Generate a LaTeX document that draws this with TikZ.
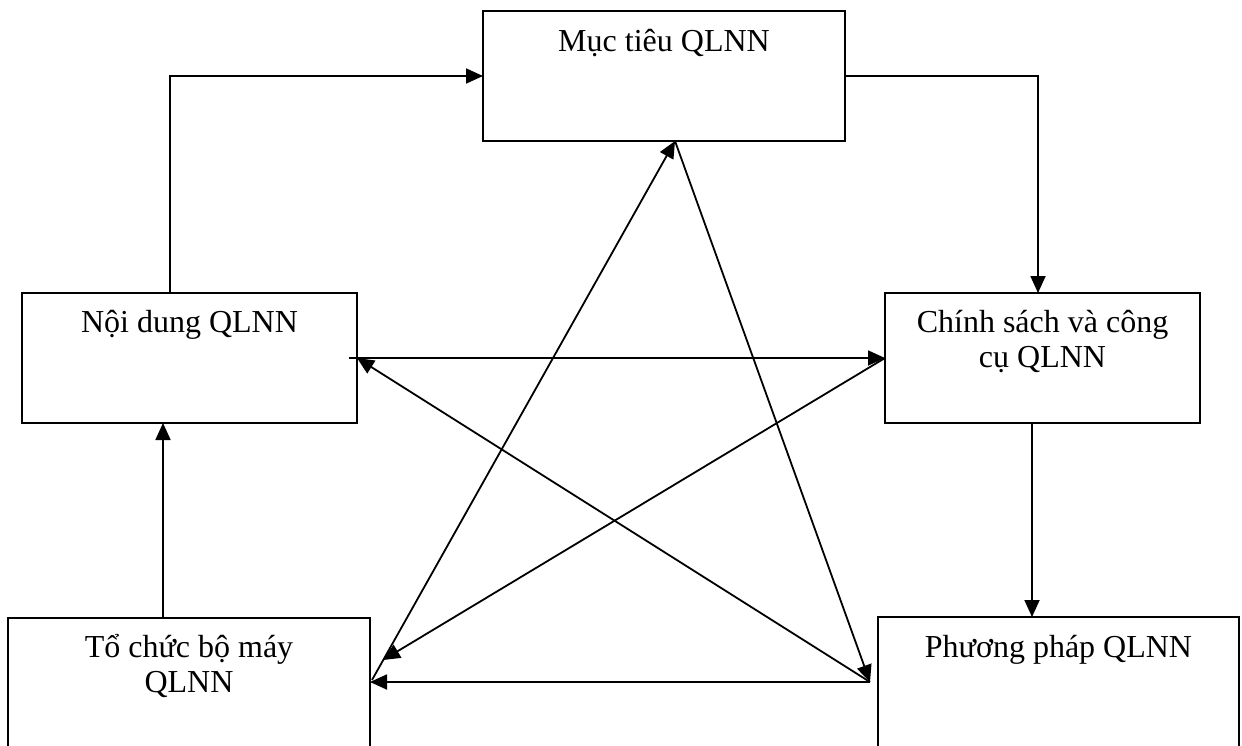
\documentclass[tikz,border=0pt]{standalone}
\usepackage{fontspec}
\setmainfont{Liberation Serif}
\usetikzlibrary{arrows.meta,calc}

\begin{document}
\begin{tikzpicture}[x=1pt,y=-1pt,
  box/.style={draw, line width=1.9pt, inner sep=0pt, outer sep=0pt},
  lbl/.style={anchor=base, inner sep=0pt, font=\fontsize{32}{35}\selectfont},
  arr/.style={line width=1.8pt, -{Triangle[length=17pt,width=15pt]}}
]
\useasboundingbox (0,0) rectangle (1242,745);
\clip (0,0) rectangle (1242,745);

% the five boxes
\node[box, minimum width=362pt, minimum height=130pt] (goal)    at (664,76)    {};
\node[box, minimum width=335pt, minimum height=130pt] (content) at (189.5,358) {};
\node[box, minimum width=315pt, minimum height=130pt] (policy)  at (1042.5,358){};
\node[box, minimum width=362pt, minimum height=200pt] (org)     at (189,718)   {};
\node[box, minimum width=361pt, minimum height=200pt] (method)  at (1058.5,717){};

% box texts
\node[lbl] (goal-t)    at (664,51)    {Mục tiêu QLNN};
\node[lbl] (content-t) at (189.5,332) {Nội dung QLNN};
\node[lbl] (policy-t)  at (1042.5,332)
  {\begin{tabular}[t]{@{}c@{}}Chính sách và công\\ cụ QLNN\end{tabular}};
\node[lbl] (org-t)     at (189,657)
  {\begin{tabular}[t]{@{}c@{}}Tổ chức bộ máy\\ QLNN\end{tabular}};
\node[lbl] (method-t)  at (1058.5,657) {Phương pháp QLNN};

% guide columns and free ends
\coordinate (k1) at (170,0);
\coordinate (k2) at (1038,0);
\coordinate (k3) at (1032,0);
\coordinate (k4) at (163,0);
\coordinate (k5) at (675,0);
\coordinate (P)  at (870,682);
\coordinate (cs) at (349,358);
\coordinate (oa) at (383,660);
\coordinate (ob) at (372,680);
\coordinate (T)  at (k5 |- goal.south);

% outer cycle
\draw[arr] (k1 |- content.north) |- (goal.west);
\draw[arr] (goal.east) -| (k2 |- policy.north);
\draw[arr] (k3 |- policy.south) -- (k3 |- method.north);
\draw[arr] (P) -- (P -| org.east);
\draw[arr] (k4 |- org.north) -- (k4 |- content.south);

% inner star
\draw[arr] (cs) -- (cs -| policy.west);
\draw[arr] (P) -- (content.east |- cs);
\draw[arr] (policy.west |- cs) -- (oa);
\draw[arr] (ob) -- (T);
\draw[arr] (T) -- (P);
\end{tikzpicture}
\end{document}
